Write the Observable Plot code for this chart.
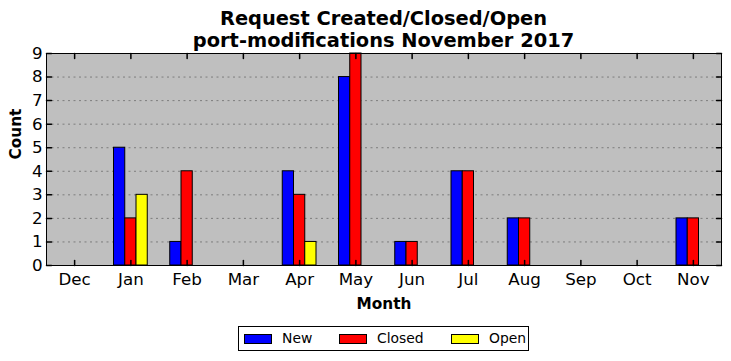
<!DOCTYPE html>
<html><head><meta charset="utf-8">
<script src="https://cdn.jsdelivr.net/npm/d3@7"></script>
<script src="https://cdn.jsdelivr.net/npm/@observablehq/plot@0.6"></script>
<style>
body{margin:0;background:#fff;font-family:"DejaVu Sans",sans-serif;}
#wrap{position:relative;width:731px;height:361px;}
#title{position:absolute;left:46px;width:675px;top:8px;text-align:center;font-weight:bold;font-size:19.4px;line-height:22px;}
#legend{position:absolute;left:238px;top:326px;width:289px;height:23px;border:1px solid #000;background:#fff;font-size:13.9px;}
.sw{position:absolute;top:7px;width:26px;height:8px;border:1px solid #000;}
.lt{position:absolute;top:3px;}
</style></head>
<body><div id="wrap">
<div id="title">Request Created/Closed/Open<br>port-modifications November 2017</div>
<div id="chart"></div>
<div id="legend"></div>
</div>
<script>
const months = ["Dec","Jan","Feb","Mar","Apr","May","Jun","Jul","Aug","Sep","Oct","Nov"];
const series = ["New","Closed","Open"];
const colors = ["#0000ff","#ff0000","#ffff00"];
const newVals =    [0,5,1,0,4,8,1,4,2,0,0,2];
const closedVals = [0,2,4,0,3,9,1,4,2,0,0,2];
const openVals =   [0,3,0,0,1,0,0,0,0,0,0,0];
const yTicks = [0,1,2,3,4,5,6,7,8,9];

const valsBy = [newVals, closedVals, openVals];
const barW = 0.2;
const rows = [];
months.forEach((m,i)=>{
  series.forEach((s,j)=>{
    rows.push({month:m, i, series:s, value:valsBy[j][i], x1:i+(j-1.5)*barW, x2:i+(j-0.5)*barW});
  });
});

const tickShape = {draw(ctx, l){ ctx.moveTo(0,0); ctx.lineTo(0,-l); }};

const chart = Plot.plot({
  width:731, height:361,
  marginLeft:46, marginRight:10, marginTop:53, marginBottom:96,
  style:{fontFamily:"DejaVu Sans", fontSize:"16.7px", color:"#000", background:"transparent"},
  x:{type:"linear", domain:[-0.5, months.length-0.5]},
  y:{domain:[0,9]},
  color:{domain:series, range:colors},
  marks:[
    Plot.frame({fill:"#bfbfbf", stroke:null}),
    Plot.ruleY(yTicks.slice(1,-1), {stroke:"#000", strokeOpacity:0.35, strokeWidth:1, strokeDasharray:"2,3.5"}),
    Plot.rectY(rows, {x1:"x1", x2:"x2", y1:0, y2:"value", fill:"series", stroke:"#000", strokeWidth:1}),
    // inward ticks
    Plot.vector(yTicks, {y:d=>d, frameAnchor:"left", length:5, rotate:90, anchor:"start", shape:tickShape, stroke:"#000"}),
    Plot.vector(yTicks, {y:d=>d, frameAnchor:"right", length:5, rotate:-90, anchor:"start", shape:tickShape, stroke:"#000"}),
    Plot.vector(d3.range(months.length), {x:d=>d, frameAnchor:"bottom", length:5, rotate:0, anchor:"start", shape:tickShape, stroke:"#000"}),
    Plot.vector(d3.range(months.length), {x:d=>d, frameAnchor:"top", length:5, rotate:180, anchor:"start", shape:tickShape, stroke:"#000"}),
    Plot.axisY(yTicks, {tickSize:0, tickPadding:4, label:null, fontSize:16.7}),
    Plot.axisX(d3.range(months.length), {tickSize:0, tickPadding:8, label:null, tickFormat:i=>months[i], fontSize:16.7}),
    Plot.text(["Count"], {text:d=>d, frameAnchor:"left", dx:-30, rotate:-90, fontWeight:"bold", fontSize:15.3}),
    Plot.text(["Month"], {text:d=>d, frameAnchor:"bottom", dy:43, fontWeight:"bold", fontSize:15.3}),
    Plot.frame({stroke:"#000", strokeWidth:1})
  ]
});
document.getElementById("chart").appendChild(chart);

const leg = document.getElementById("legend");
const swX = [5, 100, 212];
const ltX = [43, 138, 250];
series.forEach((s,j)=>{
  const sw = document.createElement("div"); sw.className="sw"; sw.style.left=swX[j]+"px"; sw.style.background=colors[j]; leg.appendChild(sw);
  const t = document.createElement("div"); t.className="lt"; t.style.left=ltX[j]+"px"; t.textContent=s; leg.appendChild(t);
});
</script>
</body></html>
